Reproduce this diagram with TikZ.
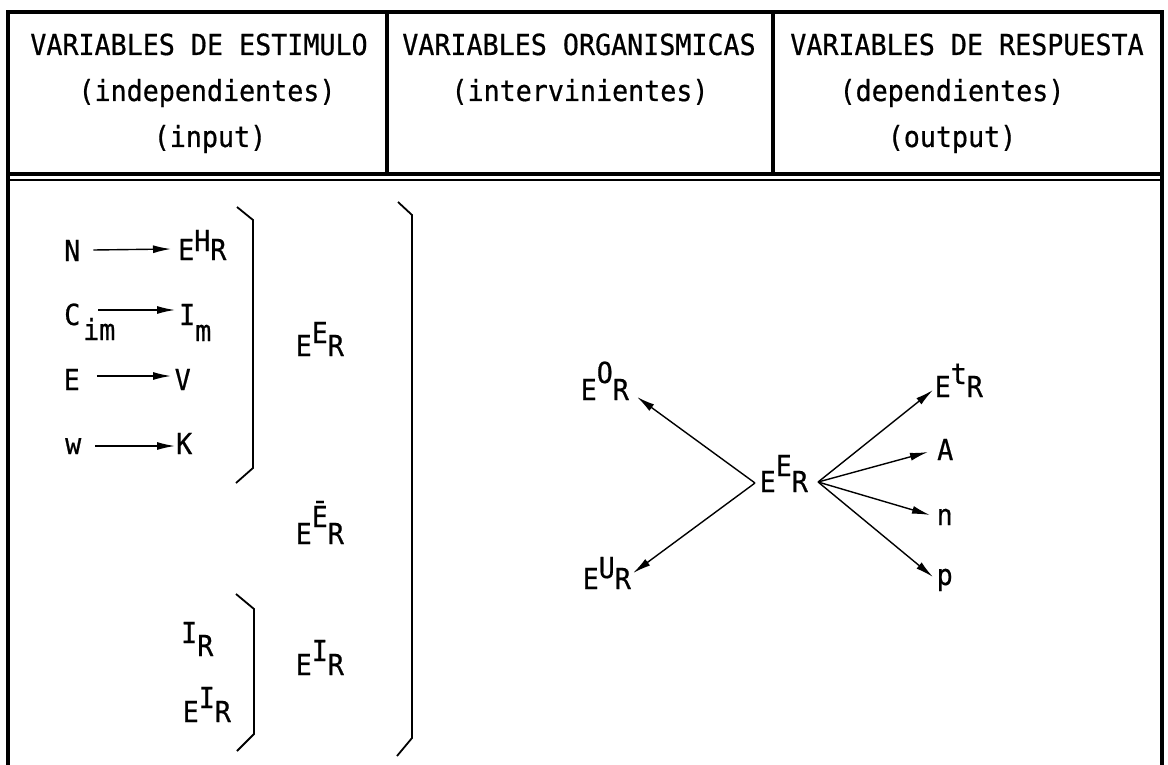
\documentclass[tikz,border=0pt]{standalone}
\usepackage{fontspec}
\newfontfamily\tw[FakeStretch=0.92,FakeBold=0.6]{DejaVu Sans Mono}
\usetikzlibrary{arrows.meta}
\newcommand{\myER}[2][13pt]{E\raisebox{#1}{#2}R}
\begin{document}
\begin{tikzpicture}[x=1pt,y=-1pt,
  frame/.style={line width=3.2pt},
  frametwo/.style={line width=2pt},
  brk/.style={line width=1.8pt, line join=miter},
  arr/.style={line width=1.4pt, -{Latex[length=18pt,width=8pt]}},
  head/.style={font=\tw\fontsize{29}{34}\selectfont, inner sep=0pt, anchor=base},
  lab/.style={font=\tw\fontsize{29}{34}\selectfont, inner sep=0pt, anchor=base west},
]
\useasboundingbox (0,0) rectangle (1168,765);
% frame
\draw[frame] (8,765) -- (8,12) -- (1162,12) -- (1162,765);
\draw[frame] (387,12) -- (387,174);
\draw[frame] (773,12) -- (773,174);
\draw[frame] (8,174) -- (1162,174);
\draw[frametwo] (8,180) -- (1162,180);
% header texts
\node[head] (h1a) at (199,55) {VARIABLES DE ESTIMULO};
\node[head] (h1b) at (207,101) {(independientes)};
\node[head] (h1c) at (210,147) {(input)};
\node[head] (h2a) at (579,55) {VARIABLES ORGANISMICAS};
\node[head] (h2b) at (580,101) {(intervinientes)};
\node[head] (h3a) at (967,55) {VARIABLES DE RESPUESTA};
\node[head] (h3b) at (952,101) {(dependientes)};
\node[head] (h3c) at (952,147) {(output)};
% left column
\node[lab] (N) at (64,261) {N};
\node[lab] (EH) at (178,260) {\myER[9pt]{H}};
\node[lab] (C) at (64,325) {C};
\node[lab] (im) at (83,340) {im};
\node[lab] (Im) at (179,325) {I\raisebox{-16pt}{m}};
\node[lab] (E) at (63.5,390) {E};
\node[lab] (V) at (174.5,390) {V};
\node[lab] (w) at (65,454) {w};
\node[lab] (K) at (176,454) {K};
\draw[arr] ([shift={(13pt,11pt)}]N.base east) -- ([shift={(-7pt,11pt)}]EH.base west);
\draw[arr] ([shift={(18pt,15pt)}]C.base east) -- ([shift={(-4pt,15pt)}]Im.base west);
\draw[arr] ([shift={(17pt,14pt)}]E.base east) -- ([shift={(-3.5pt,14pt)}]V.base west);
\draw[arr] ([shift={(14pt,8pt)}]w.base east) -- ([shift={(-1pt,8pt)}]K.base west);
\node[lab] (IR) at (181,643) {I\raisebox{-13pt}{R}};
\node[lab] (EI2) at (182.5,722) {\myER[14pt]{I}};
% middle labels
\node[lab] (EE1) at (295.5,356) {\myER[13pt]{E}};
\node[lab] (EEb) at (295.5,544) {\myER[17pt]{Ē}};
\node[lab] (EI1) at (295.5,675) {\myER[14pt]{I}};
% brackets
\draw[brk] (237,207) -- (253,220) -- (253,468) -- (236,483);
\draw[brk] (236,594) -- (254,609) -- (254,734) -- (237,751);
\draw[brk] (398,202) -- (412,215) -- (412,738) -- (397,756);
% right part
\node[lab] (EE) at (759.5,492) {\myER[16pt]{E}};
\node[lab] (EO) at (580.5,400) {\myER[17pt]{O}};
\node[lab] (EU) at (582.5,589) {\myER[11pt]{U}};
\node[lab] (Et) at (934.5,397) {\myER[13pt]{t}};
\node[lab] (A) at (937,460) {A};
\node[lab] (n) at (936.5,525) {n};
\node[lab] (p) at (936.5,585) {p};
\draw[arr] ([shift={(-4.5pt,9pt)}]EE.base west) -- ([shift={(8pt,3pt)}]EO.base east);
\draw[arr] ([shift={(-4.5pt,9pt)}]EE.base west) -- ([shift={(2pt,16pt)}]EU.base east);
\draw[arr] ([shift={(10pt,10pt)}]EE.base east) -- ([shift={(-1.5pt,7pt)}]Et.base west);
\draw[arr] ([shift={(10pt,10pt)}]EE.base east) -- ([shift={(-9pt,8pt)}]A.base west);
\draw[arr] ([shift={(10pt,10pt)}]EE.base east) -- ([shift={(-6.5pt,10pt)}]n.base west);
\draw[arr] ([shift={(10pt,10pt)}]EE.base east) -- ([shift={(-3.5pt,8pt)}]p.base west);
\end{tikzpicture}
\end{document}
